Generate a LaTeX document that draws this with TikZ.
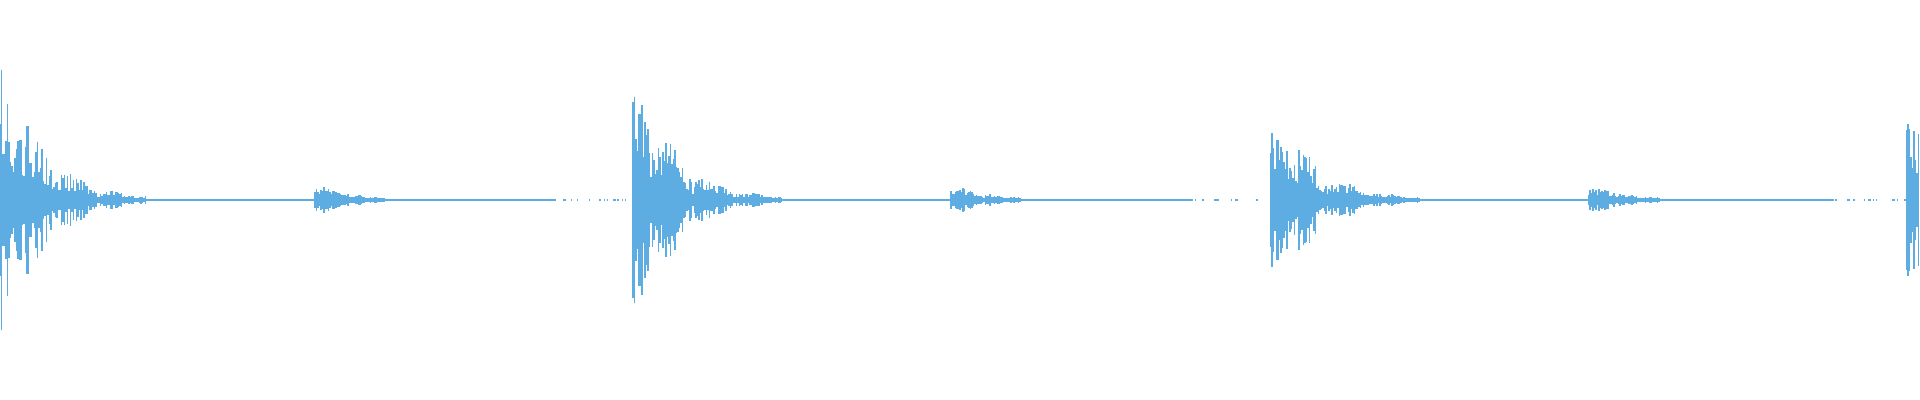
\documentclass[tikz,border=0pt]{standalone}
\usepackage{tikz}
\definecolor{wave}{RGB}{93,173,226}
\begin{document}
\begin{tikzpicture}[
            x=0.01cm, y=-0.01cm,
            sample/.style={draw=wave, line width=0.45pt},
        ]
            \useasboundingbox (0,0) rectangle (1920,400);
            \pgfmathsetseed{17}

            % bursts repeat every ~637px, loud hit then a soft echo
            \foreach \i in {0,...,1279} {
                \pgfmathsetmacro\x{1.5*\i}
                \pgfmathsetmacro\k{int((\x+4)/636.7)}
                \pgfmathsetmacro\d{\x+4-636.7*\k}
                \pgfmathsetmacro\A{{140,112,95,100}[\k]}
                \pgfmathsetmacro\loud{(\d<150)*\A*exp(-max(min(\d,200)-12,0)/38)*(0.5+0.5*abs(cos(\d*4.5)))}
                \pgfmathsetmacro\echo{(\d>318)*(\d<390)*17*exp(-min(max(\d-325,0),100)/28)*(0.55+0.45*abs(cos(\d*7)))}
                \pgfmathsetmacro\base{(\d<560)*0.9+(\d>=560)*(rnd>0.75)*0.8}
                \pgfmathsetmacro\h{(\loud+\echo)*(0.3+0.7*rnd)+\base}
                \draw[sample] (\x,200-\h) -- (\x,200+\h);
            }
        \end{tikzpicture}
\end{document}
